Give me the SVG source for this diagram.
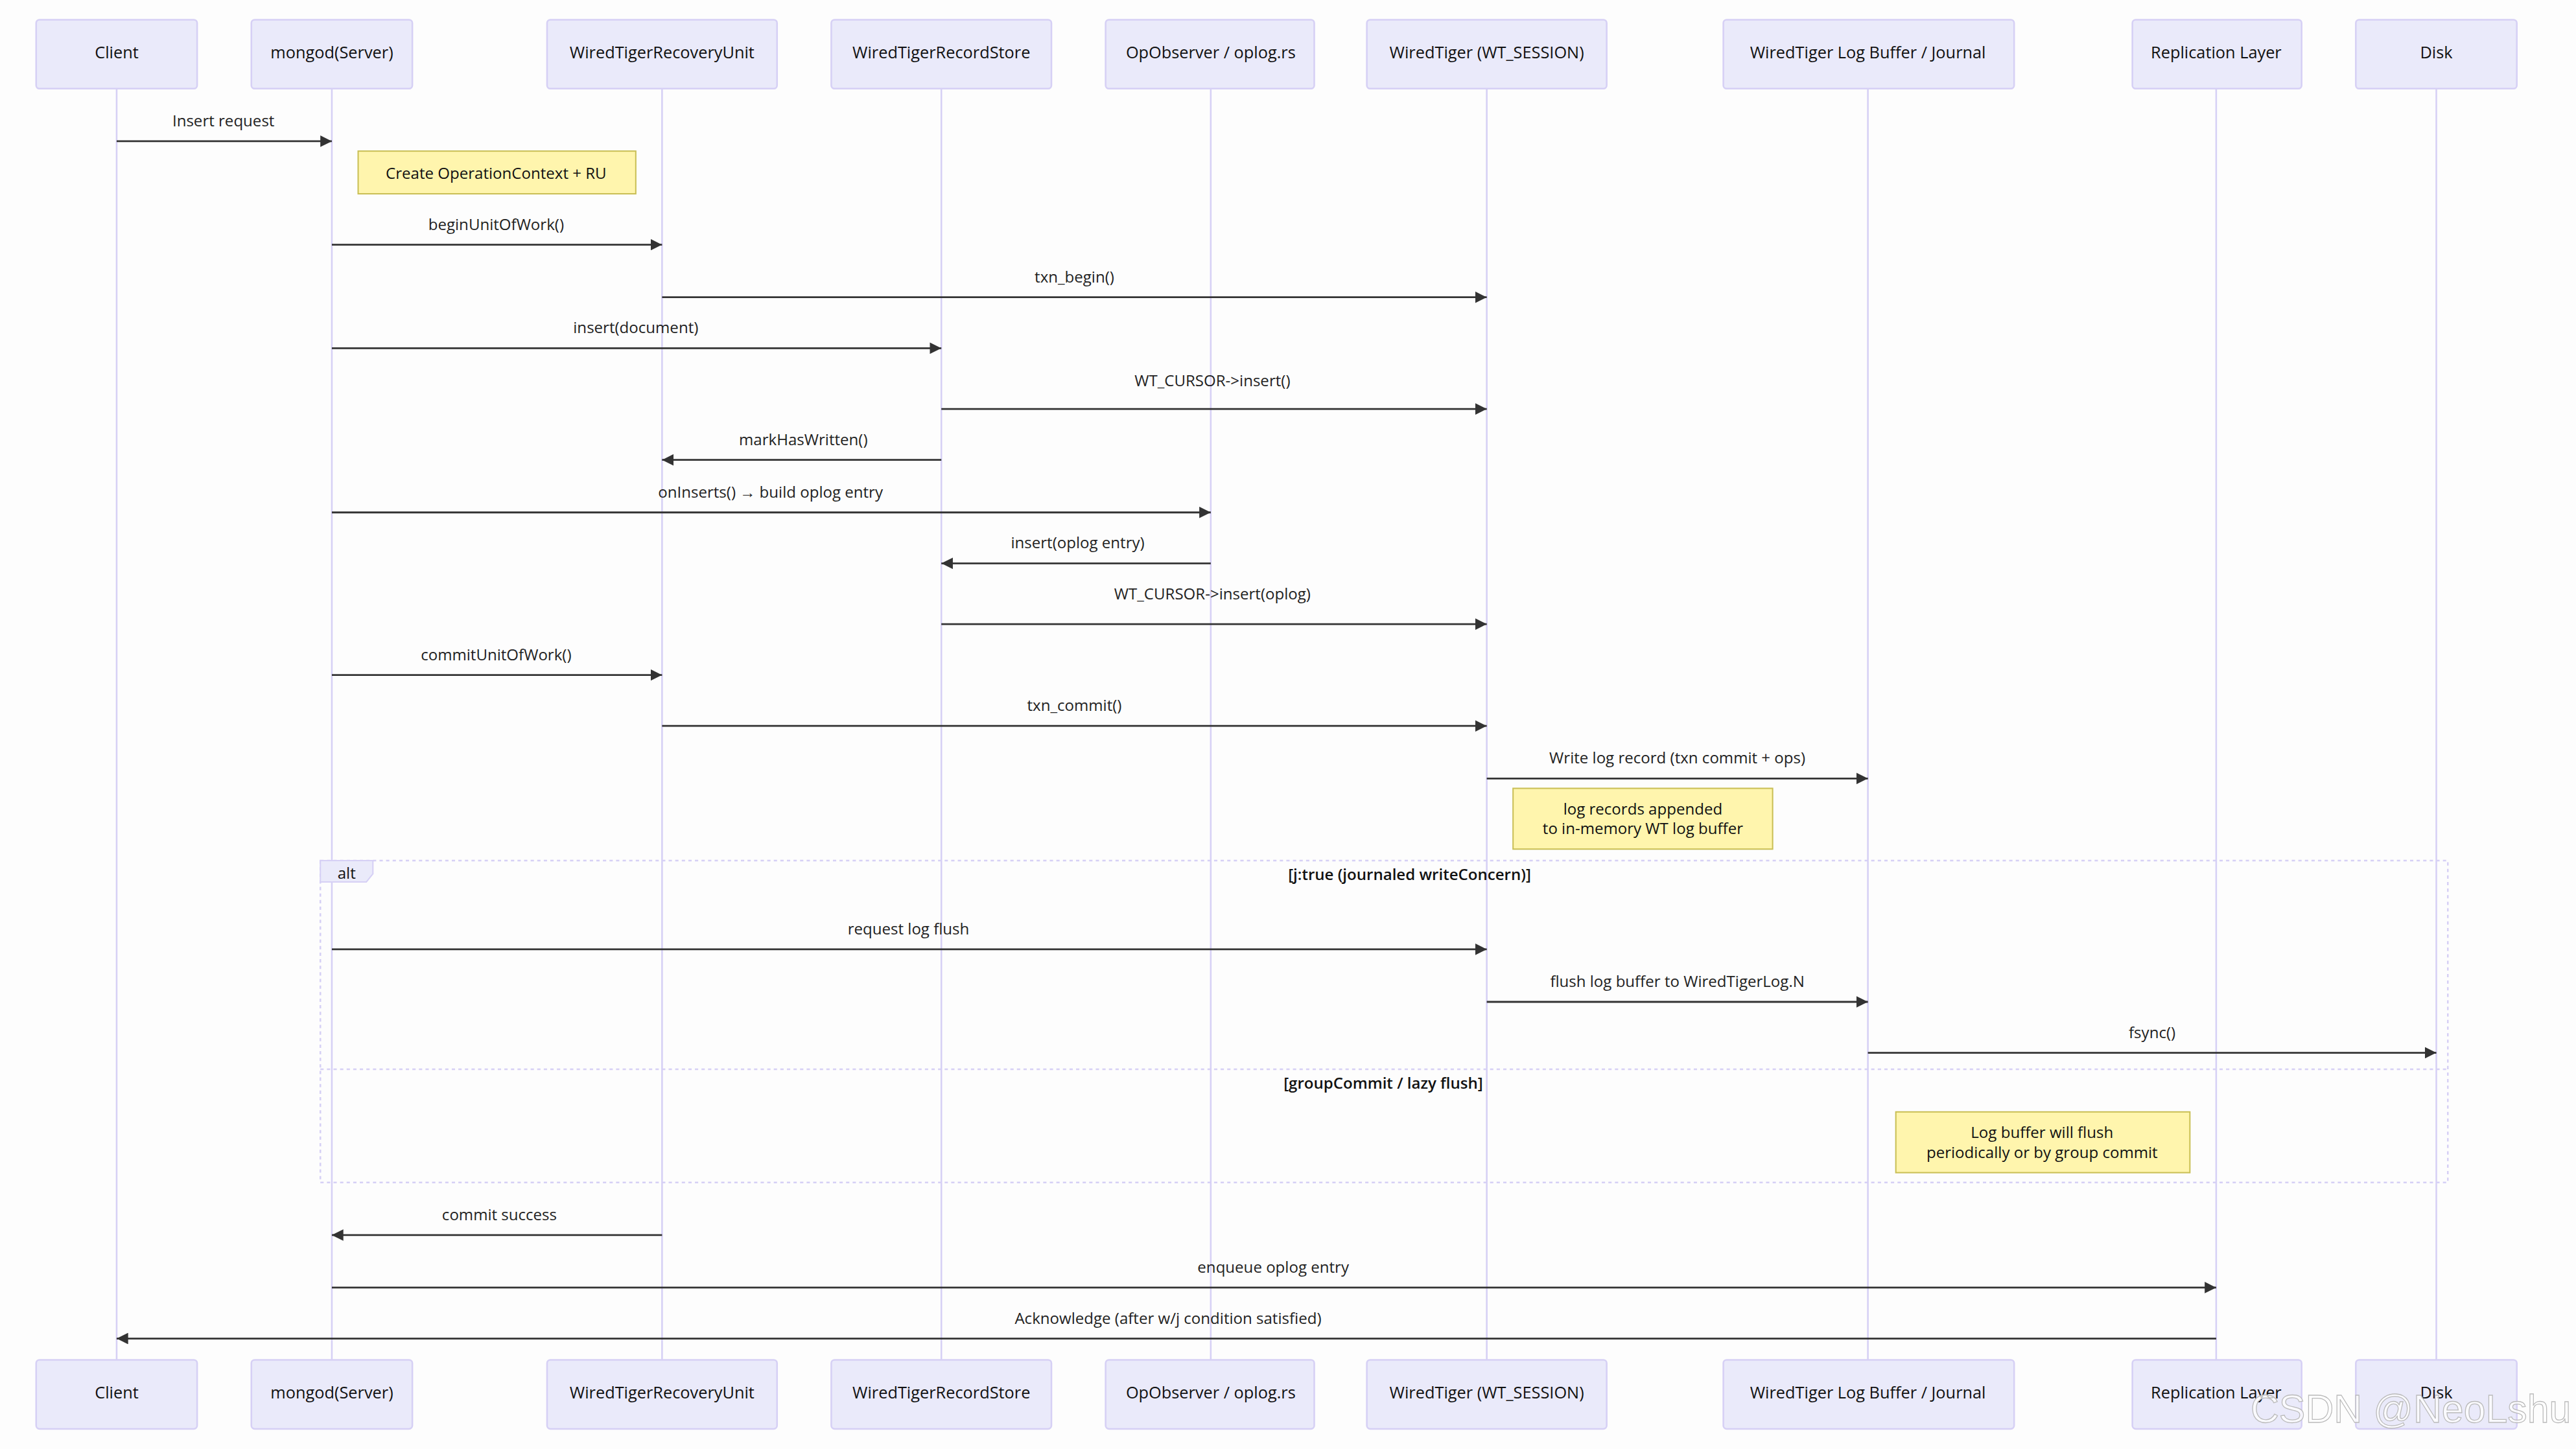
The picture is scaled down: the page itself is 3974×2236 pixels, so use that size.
<svg xmlns="http://www.w3.org/2000/svg" width="3974" height="2236" viewBox="0 0 3974 2236">
<style>
.actor{fill:#eaeafa;stroke:#d6d0f5;stroke-width:1}
.at{font-family:"Open Sans","Liberation Sans",sans-serif;font-size:10px;fill:#111;text-anchor:middle;dominant-baseline:middle}
.life{stroke:#d6d0f5;stroke-width:1;fill:none}
.msg{stroke:#333;stroke-width:1.1;fill:none;marker-end:url(#ah)}
.mt{font-family:"Open Sans","Liberation Sans",sans-serif;font-size:9.5px;fill:#222;text-anchor:middle}
.note{fill:#fff5ad;stroke:#c9bf55;stroke-width:0.8}
.nt{font-family:"Open Sans","Liberation Sans",sans-serif;font-size:9.5px;fill:#111;text-anchor:middle}
.alt{fill:none;stroke:#d6d0f5;stroke-width:1;stroke-dasharray:2,2}
</style>
<defs><marker id="ah" viewBox="0 0 10 10" refX="10" refY="5" markerWidth="7" markerHeight="7" markerUnits="userSpaceOnUse" orient="auto"><path d="M0,0L10,5L0,10z" fill="#333"/></marker></defs>
<rect width="3974" height="2236" fill="#fdfdfd"/>
<g transform="scale(2.5344)">
<g id="lifelines">
<line class="life" x1="71" y1="54" x2="71" y2="828"/><line class="life" x1="202" y1="54" x2="202" y2="828"/><line class="life" x1="403" y1="54" x2="403" y2="828"/><line class="life" x1="573" y1="54" x2="573" y2="828"/><line class="life" x1="737" y1="54" x2="737" y2="828"/><line class="life" x1="905" y1="54" x2="905" y2="828"/><line class="life" x1="1137" y1="54" x2="1137" y2="828"/><line class="life" x1="1349" y1="54" x2="1349" y2="828"/><line class="life" x1="1483" y1="54" x2="1483" y2="828"/>
</g>
<g id="client"><rect class="actor" x="22" y="12" width="98" height="42" rx="2"/><text class="at" x="71" y="33">Client</text><rect class="actor" x="22" y="828" width="98" height="42" rx="2"/><text class="at" x="71" y="849">Client</text></g>
<g id="mongod"><rect class="actor" x="153" y="12" width="98" height="42" rx="2"/><text class="at" x="202" y="33">mongod(Server)</text><rect class="actor" x="153" y="828" width="98" height="42" rx="2"/><text class="at" x="202" y="849">mongod(Server)</text></g>
<g id="ru"><rect class="actor" x="333" y="12" width="140" height="42" rx="2"/><text class="at" x="403" y="33">WiredTigerRecoveryUnit</text><rect class="actor" x="333" y="828" width="140" height="42" rx="2"/><text class="at" x="403" y="849">WiredTigerRecoveryUnit</text></g>
<g id="rs"><rect class="actor" x="506" y="12" width="134" height="42" rx="2"/><text class="at" x="573" y="33">WiredTigerRecordStore</text><rect class="actor" x="506" y="828" width="134" height="42" rx="2"/><text class="at" x="573" y="849">WiredTigerRecordStore</text></g>
<g id="op"><rect class="actor" x="673" y="12" width="127" height="42" rx="2"/><text class="at" x="737" y="33">OpObserver / oplog.rs</text><rect class="actor" x="673" y="828" width="127" height="42" rx="2"/><text class="at" x="737" y="849">OpObserver / oplog.rs</text></g>
<g id="wt"><rect class="actor" x="832" y="12" width="146" height="42" rx="2"/><text class="at" x="905" y="33">WiredTiger (WT_SESSION)</text><rect class="actor" x="832" y="828" width="146" height="42" rx="2"/><text class="at" x="905" y="849">WiredTiger (WT_SESSION)</text></g>
<g id="log"><rect class="actor" x="1049" y="12" width="177" height="42" rx="2"/><text class="at" x="1137" y="33">WiredTiger Log Buffer / Journal</text><rect class="actor" x="1049" y="828" width="177" height="42" rx="2"/><text class="at" x="1137" y="849">WiredTiger Log Buffer / Journal</text></g>
<g id="repl"><rect class="actor" x="1298" y="12" width="103" height="42" rx="2"/><text class="at" x="1349" y="33">Replication Layer</text><rect class="actor" x="1298" y="828" width="103" height="42" rx="2"/><text class="at" x="1349" y="849">Replication Layer</text></g>
<g id="disk"><rect class="actor" x="1434" y="12" width="98" height="42" rx="2"/><text class="at" x="1483" y="33">Disk</text><rect class="actor" x="1434" y="828" width="98" height="42" rx="2"/><text class="at" x="1483" y="849">Disk</text></g>
<g id="alt-frame">
<rect class="alt" x="195" y="524" width="1295" height="196"/>
<line class="alt" x1="195" y1="651" x2="1490" y2="651"/>
<path d="M195,524H227V532L223,537H195Z" fill="#eaeafa" stroke="#d6d0f5" stroke-width="0.8"/>
<text class="nt" x="211" y="535">alt</text>
<text class="nt" x="858" y="536" font-weight="600">[j:true (journaled writeConcern)]</text>
<text class="nt" x="842" y="663" font-weight="600">[groupCommit / lazy flush]</text>
</g>
<g id="notes">
<rect class="note" x="218" y="92" width="169" height="26"/><text class="nt" x="302" y="109">Create OperationContext + RU</text>
<rect class="note" x="921" y="480" width="158" height="37"/><text class="nt" x="1000" y="496">log records appended</text><text class="nt" x="1000" y="508">to in-memory WT log buffer</text>
<rect class="note" x="1154" y="677" width="179" height="37"/><text class="nt" x="1243" y="693">Log buffer will flush</text><text class="nt" x="1243" y="705">periodically or by group commit</text>
</g>
<g id="connectors">
<line class="msg" x1="71" y1="86" x2="202" y2="86"/><text class="mt" x="136" y="77">Insert request</text>
<line class="msg" x1="202" y1="149" x2="403" y2="149"/><text class="mt" x="302" y="140">beginUnitOfWork()</text>
<line class="msg" x1="403" y1="181" x2="905" y2="181"/><text class="mt" x="654" y="172">txn_begin()</text>
<line class="msg" x1="202" y1="212" x2="573" y2="212"/><text class="mt" x="387" y="203">insert(document)</text>
<line class="msg" x1="573" y1="249" x2="905" y2="249"/><text class="mt" x="738" y="235">WT_CURSOR-&gt;insert()</text>
<line class="msg" x1="573" y1="280" x2="403" y2="280"/><text class="mt" x="489" y="271">markHasWritten()</text>
<line class="msg" x1="202" y1="312" x2="737" y2="312"/><text class="mt" x="469" y="303">onInserts() → build oplog entry</text>
<line class="msg" x1="737" y1="343" x2="573" y2="343"/><text class="mt" x="656" y="334">insert(oplog entry)</text>
<line class="msg" x1="573" y1="380" x2="905" y2="380"/><text class="mt" x="738" y="365">WT_CURSOR-&gt;insert(oplog)</text>
<line class="msg" x1="202" y1="411" x2="403" y2="411"/><text class="mt" x="302" y="402">commitUnitOfWork()</text>
<line class="msg" x1="403" y1="442" x2="905" y2="442"/><text class="mt" x="654" y="433">txn_commit()</text>
<line class="msg" x1="905" y1="474" x2="1137" y2="474"/><text class="mt" x="1021" y="465">Write log record (txn commit + ops)</text>
<line class="msg" x1="202" y1="578" x2="905" y2="578"/><text class="mt" x="553" y="569">request log flush</text>
<line class="msg" x1="905" y1="610" x2="1137" y2="610"/><text class="mt" x="1021" y="601">flush log buffer to WiredTigerLog.N</text>
<line class="msg" x1="1137" y1="641" x2="1483" y2="641"/><text class="mt" x="1310" y="632">fsync()</text>
<line class="msg" x1="403" y1="752" x2="202" y2="752"/><text class="mt" x="304" y="743">commit success</text>
<line class="msg" x1="202" y1="784" x2="1349" y2="784"/><text class="mt" x="775" y="775">enqueue oplog entry</text>
<line class="msg" x1="1349" y1="815" x2="71" y2="815"/><text class="mt" x="711" y="806">Acknowledge (after w/j condition satisfied)</text>
</g>
<text x="1565" y="866" font-family="Liberation Sans,sans-serif" font-size="24" fill="#ffffff" fill-opacity="0.75" stroke="#bbb" stroke-width="0.5" text-anchor="end">CSDN @NeoLshu</text>
</g>
</svg>
